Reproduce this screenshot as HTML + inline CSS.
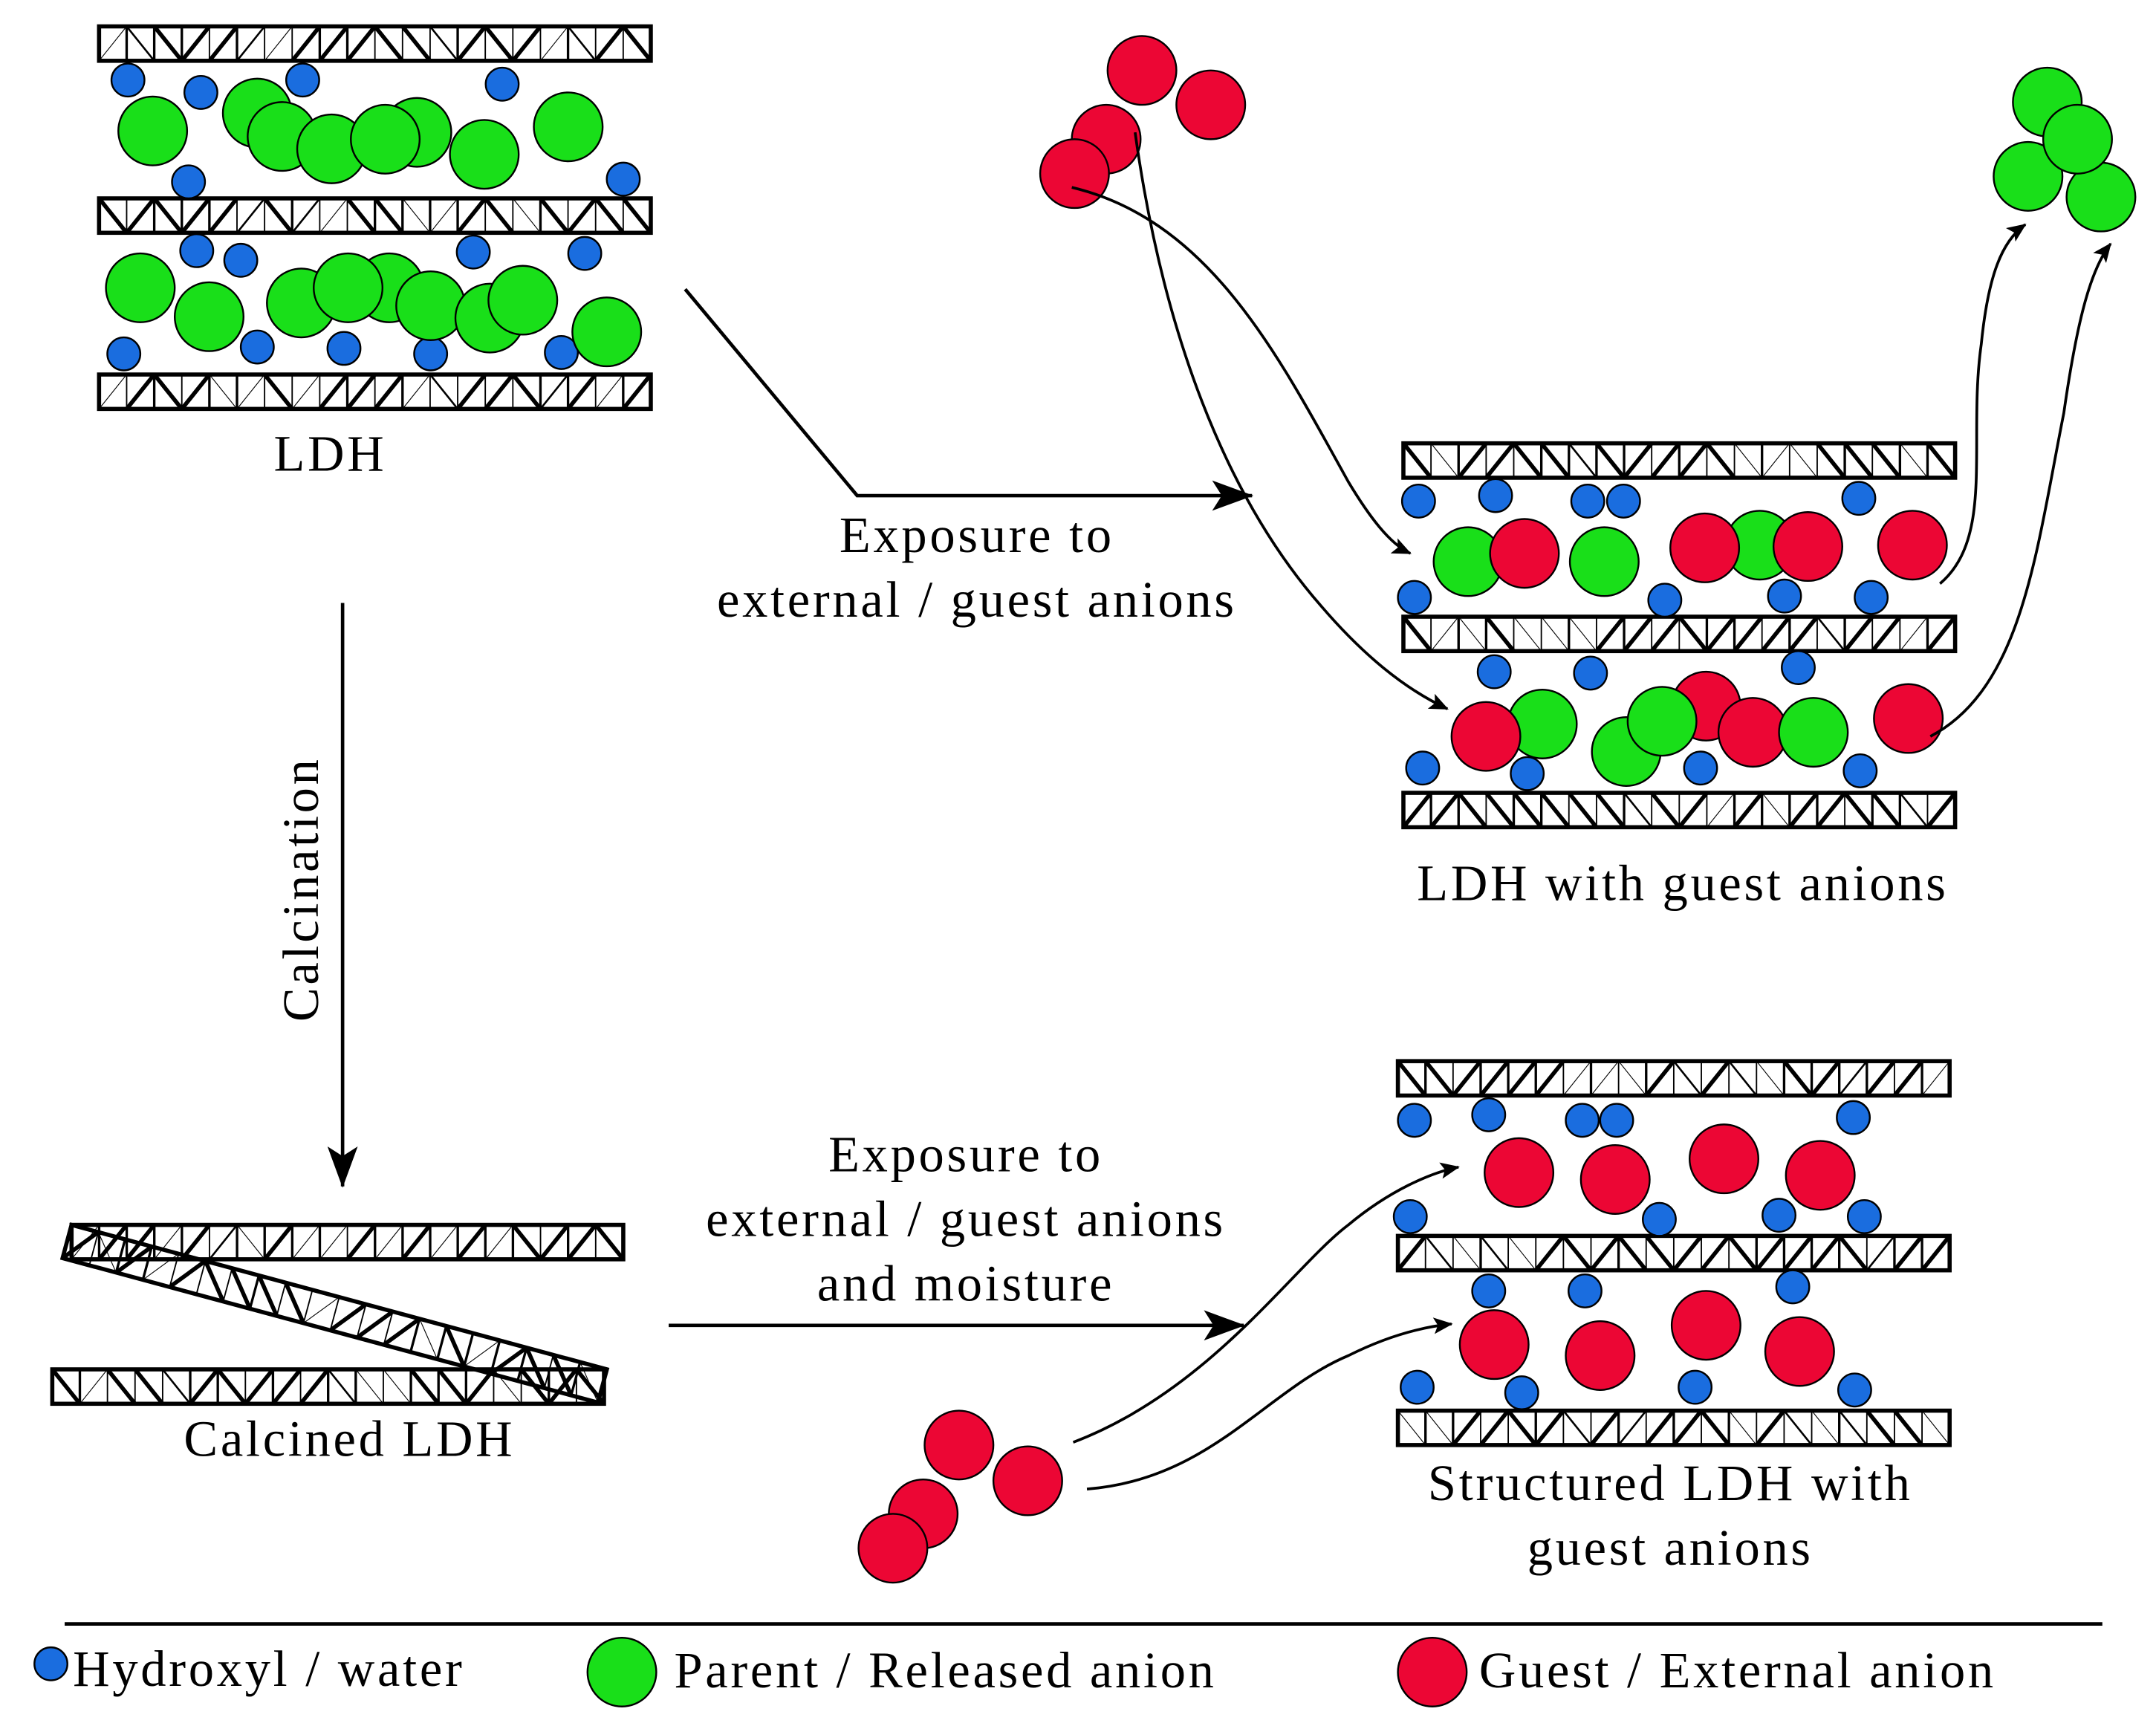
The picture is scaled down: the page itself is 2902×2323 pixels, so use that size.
<!DOCTYPE html>
<html><head><meta charset="utf-8">
<style>
html,body{margin:0;padding:0;background:#fff;}
svg{display:block;}
text{font-family:"Liberation Serif",serif;font-size:37px;letter-spacing:2px;fill:#000;}
</style></head>
<body>
<svg id="s" xmlns="http://www.w3.org/2000/svg" width="2902" height="2323" viewBox="0 0 1567 1254">
<defs>
<marker id="ah" markerWidth="14" markerHeight="12" refX="13" refY="6" orient="auto" markerUnits="userSpaceOnUse">
<path d="M0,0 L14,6 L0,12 L3,6 Z" fill="#000"/>
</marker>
<marker id="ah2" markerWidth="30" markerHeight="22" refX="29" refY="11" orient="auto" markerUnits="userSpaceOnUse">
<path d="M0,0 L30,11 L0,22 L7,11 Z" fill="#000"/>
</marker>
</defs>
<g id="layers"></g>
<g id="circles"></g>
<g fill="none" stroke="#000" stroke-width="2.5">
<polyline points="498,210 623,360 910,360" marker-end="url(#ah2)"/>
<line x1="249" y1="438" x2="249" y2="862" marker-end="url(#ah2)"/>
<line x1="486" y1="963" x2="904" y2="963" marker-end="url(#ah2)"/>
</g>
<g fill="none" stroke="#000" stroke-width="2">
<path d="M779,136 C880,160 930,260 980,350 C995,375 1010,395 1025,402" marker-end="url(#ah)"/>
<path d="M825,96 C845,240 890,360 960,440 C990,475 1020,500 1052,515" marker-end="url(#ah)"/>
<path d="M1410,424 C1450,390 1430,320 1440,250 C1445,200 1455,175 1472,163" marker-end="url(#ah)"/>
<path d="M1403,535 C1470,500 1480,400 1500,300 C1510,230 1520,195 1534,177" marker-end="url(#ah)"/>
<path d="M780,1048 C880,1010 940,920 980,890 C1010,865 1040,852 1060,848" marker-end="url(#ah)"/>
<path d="M790,1082 C880,1075 920,1010 980,985 C1010,970 1035,964 1055,962" marker-end="url(#ah)"/>
</g>
<text x="240" y="342" text-anchor="middle">LDH</text>
<text x="710" y="401" text-anchor="middle">Exposure to</text>
<text x="710" y="448" text-anchor="middle">external / guest anions</text>
<text x="1223" y="654" text-anchor="middle">LDH with guest anions</text>
<text transform="translate(231,646) rotate(-90)" text-anchor="middle">Calcination</text>
<text x="254" y="1058" text-anchor="middle">Calcined LDH</text>
<text x="702" y="851" text-anchor="middle">Exposure to</text>
<text x="702" y="898" text-anchor="middle">external / guest anions</text>
<text x="702" y="945" text-anchor="middle">and moisture</text>
<text x="1214" y="1090" text-anchor="middle">Structured LDH with</text>
<text x="1214" y="1137" text-anchor="middle">guest anions</text>
<line x1="47" y1="1180" x2="1528" y2="1180" stroke="#000" stroke-width="2.5"/>
<text x="53" y="1225">Hydroxyl / water</text>
<text x="490" y="1226">Parent / Released anion</text>
<text x="1075" y="1226">Guest / External anion</text>
</svg>
<script>
var NS="http://www.w3.org/2000/svg";
var seed=7;function rnd(){seed=(seed*16807)%2147483647;return seed/2147483647;}
function el(p,t,a){var e=document.createElementNS(NS,t);for(var k in a)e.setAttribute(k,a[k]);p.appendChild(e);return e;}
var LG=document.getElementById("layers");
function layer(x,y,w,h,tr){
  var g=el(LG,"g",{transform:(tr||"")});
  var n=20,cw=w/n;
  for(var i=0;i<n;i++){
    var x0=x+i*cw,x1=x0+cw;
    var r=rnd(),sw=r<0.25?0.6:(r<0.4?1.4:3);
    var d=rnd()<0.5;
    el(g,"line",{x1:d?x0:x1,y1:y,x2:d?x1:x0,y2:y+h,stroke:"#000","stroke-width":sw});
    if(i>0)el(g,"line",{x1:x0,y1:y,x2:x0,y2:y+h,stroke:"#000","stroke-width":rnd()<0.5?1:1.8});
  }
  el(g,"rect",{x:x,y:y,width:w,height:h,fill:"none",stroke:"#000","stroke-width":3});
}
[[72,19],[72,144],[72,272],[1020,322],[1020,448],[1020,576],[1016,771],[1016,898],[1016,1025],[52,890],[38,995]].forEach(function(p){layer(p[0],p[1],401,25);});
layer(52,890,403,25,"rotate(15.1 52 890)");
var CG=document.getElementById("circles");
function c(x,y,r,f){el(CG,"circle",{cx:x,cy:y,r:r,fill:f,stroke:"#000","stroke-width":1.3});}
var B="#1a6ddf",G="#19df19",R="#ec0634";
function bl(a){a.forEach(function(p){c(p[0],p[1],12,B);});}
function gr(a){a.forEach(function(p){c(p[0],p[1],25,G);});}
function rd(a){a.forEach(function(p){c(p[0],p[1],25,R);});}
bl([[93,58],[146,67],[220,58],[365,61],[137,132],[453,130]]);
gr([[111,95],[187,82],[303,96],[205,99],[241,108],[280,101],[352,112],[413,92]]);
bl([[143,182],[175,189],[344,183],[425,184],[90,257],[187,252],[250,253],[313,257],[408,256]]);
gr([[102,209],[152,230],[219,220],[283,209],[253,209],[313,222],[356,231],[380,218],[441,241]]);
bl([[1031,364],[1087,360],[1154,364],[1180,364],[1351,362],[1028,434],[1210,436],[1297,433],[1360,434]]);
gr([[1067,408],[1279,396]]);rd([[1108,402],[1239,398]]);gr([[1166,408]]);rd([[1314,397],[1390,396]]);
bl([[1086,488],[1156,489],[1307,485]]);
rd([[1240,513]]);gr([[1121,526],[1182,546]]);rd([[1080,535],[1274,532],[1387,522]]);gr([[1208,524],[1318,532]]);
bl([[1034,558],[1110,562],[1236,558],[1352,560]]);
bl([[1028,814],[1082,810],[1150,814],[1175,814],[1347,812],[1025,884],[1206,886],[1293,883],[1355,884],[1082,938],[1152,938],[1303,935],[1030,1008],[1106,1012],[1232,1008],[1348,1010]]);
rd([[1104,852],[1174,857],[1253,842],[1323,854],[1086,977],[1163,985],[1240,963],[1308,982]]);
rd([[830,51],[880,76],[804,101],[781,126]]);
gr([[1488,74],[1474,128],[1527,143],[1510,101]]);
rd([[697,1050],[747,1076],[671,1100],[649,1125]]);
c(37,1209,12,B);c(452,1215,25,G);c(1041,1215,25,R);
</script>
</body></html>
